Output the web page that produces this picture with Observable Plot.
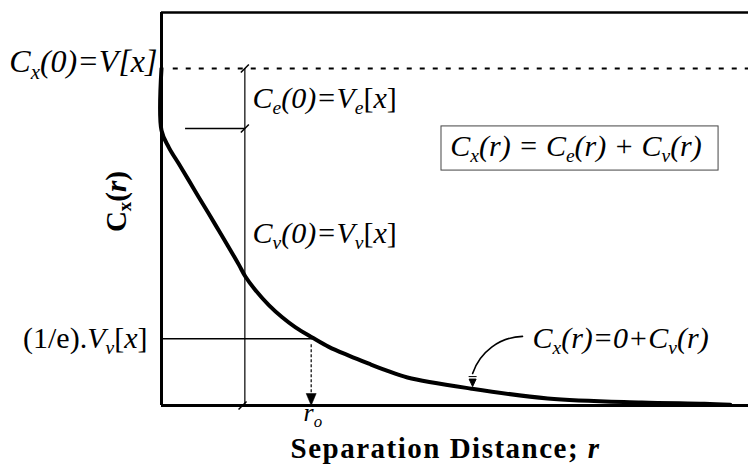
<!DOCTYPE html>
<html><head><meta charset="utf-8">
<script src="https://cdn.jsdelivr.net/npm/d3@7"></script>
<script src="https://cdn.jsdelivr.net/npm/@observablehq/plot@0.6"></script>
<style>html,body{margin:0;padding:0;background:#fff;} svg{display:block}</style>
</head><body><div id="chart"></div>
<script>
// ---- data (C_x(r) as a fraction of V[x]) ----
const rValues  = [0, 0, 0.124, 0.295, 0.465, 0.635, 0.806, 0.976, 1.147, 1.317, 1.431, 1.601, 1.828, 2.056, 2.283, 2.567, 2.850, 3.191, 3.532, 3.816, 4.19, 5.28, 6.58, 8.18, 9.25, 9.69];
const cxValues = [1.0, 0.816, 0.766, 0.717, 0.668, 0.618, 0.569, 0.519, 0.469, 0.418, 0.382, 0.342, 0.298, 0.262, 0.232, 0.202, 0.174, 0.148, 0.124, 0.105, 0.083, 0.050, 0.021, 0.009, 0.005, 0.002];
const xDomain = [0, 10];
const yDomain = [0, 1.166];
const varianceTotal = 1.0;      // C_x(0) = V[x]
const varianceV = 0.822;        // C_v(0) = V_v[x]
const levelInvE = 0.198;        // (1/e).V_v[x]
const rMark = 1.42;             // dimension line position
const rNought = 2.55;           // r_o
const nuggetTickStart = 0.41;
// annotation anchors (data units)
const labelTexts = [
  "C_{x}(0)=V[x]",
  "C_{e}(0)=V_{e}~[~x~]~",
  "C_{v}(0)=V_{v}~[~x~]~",
  "~(1/e).~V_{v}~[~x~]~",
  "C_{x}(r) = C_{e}(r) + C_{v}(r)",
  "C_{x}(r)=0+C_{v}(r)",
  "r_{o}",
  "Separation Distance; ~r",
  "C_{x}(~r~)"
];
const labelX = [0, 1.55, 1.55, 0, 4.92, 6.32, 2.42, 4.84, -0.613];
const labelY = [0.988, 0.884, 0.481, 0.172, 0.739, 0.172, -0.047, -0.157, 0.605];
const boxX = [4.77, 9.49];
const boxY = [0.697, 0.828];
const calloutFrom = [6.15, 0.205];
const calloutTo = [5.30, 0.095];
const calloutHead = [5.30, 0.068];
const slashX = [rMark, rMark, rMark - 0.04];
const slashY = [varianceTotal, varianceV, 0.0];

const curve = rValues.map((r, i) => ({r, c: cxValues[i]}));
const labels = labelTexts.map((t, i) => ({text: t, x: labelX[i], y: labelY[i]}));
const slashes = slashX.map((x, i) => ({x, y: slashY[i]}));

const slashSymbol = {draw(ctx) { ctx.moveTo(4, -4); ctx.lineTo(-4, 4); }};
const triDown = {draw(ctx) { ctx.moveTo(-5, -12); ctx.lineTo(5, -12); ctx.lineTo(0, 0); ctx.closePath(); }};
const barTri = {draw(ctx) { ctx.moveTo(-4, -6); ctx.lineTo(4, -6); ctx.moveTo(-3.5, -3.5); ctx.lineTo(3.5, -3.5); ctx.lineTo(0, 4); ctx.closePath(); }};

const FONT = "Liberation Serif";
function textMark(i, opts) {
  return Plot.text([labels[i]], {x: "x", y: "y", text: "text", lineAnchor: "bottom", fill: "black", fontFamily: FONT, ...opts});
}

const plot = Plot.plot({
  width: 748, height: 473,
  marginLeft: 161, marginRight: 0, marginTop: 12, marginBottom: 68,
  x: {domain: xDomain, axis: null},
  y: {domain: yDomain, axis: null},
  style: {fontFamily: FONT, background: "white", color: "black", overflow: "visible"},
  marks: [
    // frame
    Plot.ruleX([xDomain[0]], {y1: yDomain[0], y2: yDomain[1], stroke: "black", strokeWidth: 3}),
    Plot.ruleY([yDomain[0]], {x1: xDomain[0], x2: xDomain[1], stroke: "black", strokeWidth: 3}),
    Plot.ruleY([yDomain[1]], {x1: xDomain[0], x2: xDomain[1], stroke: "black", strokeWidth: 2.5}),
    // dotted V[x] level
    Plot.ruleY([varianceTotal], {x1: 0.2, x2: xDomain[1], stroke: "black", strokeWidth: 2, strokeDasharray: "5,8"}),
    // dimension lines
    Plot.ruleX([rMark], {y1: 0, y2: varianceTotal, stroke: "black", strokeWidth: 1.2}),
    Plot.ruleY([varianceV], {x1: nuggetTickStart, x2: rMark, stroke: "black", strokeWidth: 1.5}),
    Plot.ruleY([levelInvE], {x1: 0, x2: rNought + 0.03, stroke: "black", strokeWidth: 1.5}),
    Plot.ruleX([rNought], {y1: levelInvE - 0.018, y2: 0.03, stroke: "black", strokeWidth: 1.2, strokeDasharray: "3,2"}),
    Plot.dot([{x: rNought, y: 0}], {x: "x", y: "y", symbol: triDown, fill: "black", stroke: "black", strokeWidth: 0.5}),
    Plot.dot(slashes, {x: "x", y: "y", symbol: slashSymbol, stroke: "black", strokeWidth: 1.5, fill: "none"}),
    // the covariance curve
    Plot.line(curve, {x: "r", y: "c", stroke: "black", strokeWidth: 4, curve: "catmull-rom", strokeLinejoin: "round"}),
    // formula box
    Plot.rect([{x1: boxX[0], x2: boxX[1], y1: boxY[0], y2: boxY[1]}], {x1: "x1", x2: "x2", y1: "y1", y2: "y2", fill: "white", stroke: "#444", strokeWidth: 1}),
    // callout arrow
    Plot.arrow([{x1: calloutFrom[0], y1: calloutFrom[1], x2: calloutTo[0], y2: calloutTo[1]}], {x1: "x1", y1: "y1", x2: "x2", y2: "y2", bend: -35, headLength: 0, stroke: "black", strokeWidth: 1.6}),
    Plot.dot([{x: calloutHead[0], y: calloutHead[1]}], {x: "x", y: "y", symbol: barTri, fill: "black", stroke: "black", strokeWidth: 1}),
    // labels
    textMark(0, {textAnchor: "end", dx: -4, fontSize: 32, fontStyle: "italic"}),
    textMark(1, {textAnchor: "start", fontSize: 30, fontStyle: "italic"}),
    textMark(2, {textAnchor: "start", fontSize: 30, fontStyle: "italic"}),
    textMark(3, {textAnchor: "end", dx: -14, fontSize: 30, fontStyle: "italic"}),
    textMark(4, {textAnchor: "start", fontSize: 30, fontStyle: "italic"}),
    textMark(5, {textAnchor: "start", fontSize: 30, fontStyle: "italic"}),
    textMark(6, {textAnchor: "start", fontSize: 26, fontStyle: "italic"}),
    textMark(7, {textAnchor: "middle", fontSize: 29, fontWeight: "bold"}),
    textMark(8, {textAnchor: "middle", fontSize: 29, fontWeight: "bold", rotate: -90})
  ]
});

document.getElementById("chart").appendChild(plot);

// turn the light markup ( _{sub}, ~ style toggle ) into tspans
function richify(svg) {
  const NS = "http://www.w3.org/2000/svg";
  for (const t of svg.querySelectorAll("text")) {
    const s = t.textContent;
    if (!/[_~]/.test(s)) continue;
    const cs = getComputedStyle(t);
    const fs = parseFloat(cs.fontSize);
    const baseItalic = cs.fontStyle === "italic";
    const segs = [];
    let alt = false, i = 0;
    while (i < s.length) {
      const c = s[i];
      if (c === "~") { alt = !alt; i++; continue; }
      if (c === "_" && s[i + 1] === "{") {
        const j = s.indexOf("}", i);
        segs.push({text: s.slice(i + 2, j), sub: true, alt});
        i = j + 1; continue;
      }
      const last = segs[segs.length - 1];
      if (last && !last.sub && last.alt === alt) last.text += c;
      else segs.push({text: c, sub: false, alt});
      i++;
    }
    while (t.firstChild) t.removeChild(t.firstChild);
    let shifted = false;
    const sh = 0.2 * fs;
    for (const seg of segs) {
      const ts = document.createElementNS(NS, "tspan");
      ts.textContent = seg.text;
      if (seg.alt) ts.setAttribute("font-style", baseItalic ? "normal" : "italic");
      if (seg.sub) {
        ts.setAttribute("font-size", 0.65 * fs);
        if (!shifted) { ts.setAttribute("dy", sh); shifted = true; }
      } else if (shifted) { ts.setAttribute("dy", -sh); shifted = false; }
      t.appendChild(ts);
    }
  }
  for (const t of svg.querySelectorAll("text")) {
    if (t.textContent.startsWith("Separation")) t.setAttribute("letter-spacing", "1.5");
  }
}
richify(plot);
</script>
</body></html>
